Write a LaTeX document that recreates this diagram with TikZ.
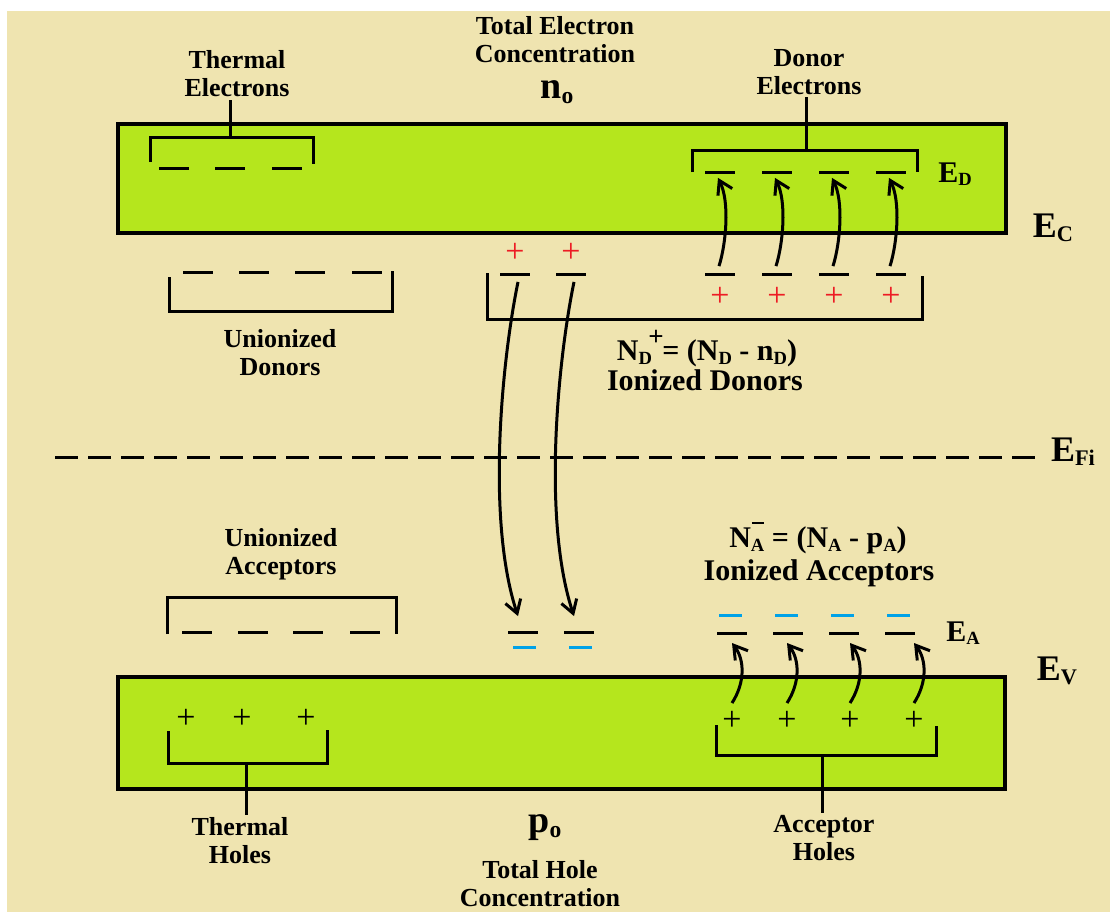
\documentclass[tikz,border=0pt]{standalone}
\usepackage{fontspec}
\setmainfont{Liberation Serif}
\usepackage{graphicx}
\usetikzlibrary{arrows.meta,positioning}

\definecolor{bgtan}{HTML}{EFE4B0}
\definecolor{bandgreen}{HTML}{B5E61D}
\definecolor{ionred}{HTML}{ED1C24}
\definecolor{ionblue}{HTML}{00A2E8}

\newcommand{\lowidx}[1]{\raisebox{-0.12em}{\scalebox{0.62}{#1}}}
\newcommand{\lblfont}{\bfseries\fontsize{13}{14}\selectfont}

\begin{document}
\begin{tikzpicture}[x=0.5pt, y=-0.5pt,
  band/.style={draw, line width=2pt, fill=bandgreen},
  lvl/.style={fill=black, minimum width=15pt, minimum height=1.5pt, inner sep=0pt},
  bluelvl/.style={fill=ionblue, minimum width=11.5pt, minimum height=1.5pt, inner sep=0pt},
  plus/.style={font=\fontsize{17}{17}\selectfont, inner sep=0pt},
  brk/.style={line width=1.5pt},
  lbl/.style={font=\lblfont, align=center, inner sep=1pt},
  bigl/.style={font=\bfseries\fontsize{15}{16}\selectfont, align=center, inner sep=1pt},
  elbl/.style={font=\bfseries\fontsize{18}{20}\selectfont, inner sep=0pt},
  elbls/.style={font=\bfseries\fontsize{15}{16}\selectfont, inner sep=0pt},
  hop/.style={line width=1.5pt, -{Straight Barb[length=6.5pt,width=8pt]}},
  fermi/.style={line width=1.5pt, dash pattern=on 11.5pt off 5pt}]

% page and background
\fill[white] (0,0) rectangle (1110,912);
\fill[bgtan] (7,11) rectangle (1110,912);
\useasboundingbox (0,0) rectangle (1110,912);

% conduction and valence bands
\draw[band] (118,124) rectangle (1006,233);
\draw[band] (118,677) rectangle (1005,789);

\node[elbl] (ec) at (1053,228) {E\lowidx{C}};
\node[elbl] (ev) at (1057,671) {E\lowidx{V}};
\node[elbls] (ed) at (955,174) {E\lowidx{D}};
\node[elbls] (ea) at (963,633) {E\lowidx{A}};

% intrinsic Fermi level
\coordinate (fl) at (55,457);
\coordinate (fr) at (1037,457);
\draw[fermi] (fl) -- (fr);
\node[elbl] (efi) at (1073,452) {E\lowidx{Fi}};

% top labels
\node[lbl] (tot) at (555,40) {Total Electron\\Concentration};
\node[font=\bfseries\fontsize{19}{20}\selectfont, inner sep=0pt] (no) at (557,92) {n\lowidx{o}};

% thermal electrons
\foreach \x [count=\i] in {174,230,287} {
  \node[lvl] (te\i) at (\x,168) {};
}
\draw[brk] (150,162) -- (150,137) -- (313,137) -- (313,164);
\node[lbl] (tel) at (237,74) {Thermal\\Electrons};
\coordinate (teb) at (230,137);
\draw[brk] (teb) -- (teb |- tel.south);

% donor electrons and ionized donors
\foreach \x [count=\i] in {720,777,834,891} {
  \node[lvl] (du\i) at (\x,172) {};
  \node[lvl] (dl\i) at (\x,274) {};
  \node[plus, text=ionred] (dp\i) at (\x,297) {+};
  \draw[hop] ([xshift=-0.5pt,yshift=3pt]dl\i.north) .. controls +(7,-22) and +(12,24) .. ([xshift=-1pt,yshift=-2pt]du\i.south);
}
\draw[brk] (692,172) -- (692,150) -- (917,150) -- (917,172);
\node[lbl] (del) at (809,72) {Donor\\Electrons};
\coordinate (deb) at (806,150);
\draw[brk] (deb) -- (deb |- del.south);

% unionized donors
\foreach \x [count=\i] in {198,254,310,367} {
  \node[lvl] (ud\i) at (\x,272) {};
}
\draw[brk] (169,277) -- (169,311) -- (392,311) -- (392,271);
\node[lbl] (udl) at (280,353) {Unionized\\Donors};

% ionized donors: electrons dropping to acceptor level
\draw[brk] (487,273) -- (487,319) -- (922,319) -- (922,276);
\foreach \x [count=\i] in {515,571} {
  \node[lvl] (il\i) at (\x,274) {};
  \node[plus, text=ionred] (ip\i) at (\x,253) {+};
  \node[lvl] (al\i) at (\x+8,632) {};
  \node[bluelvl] (ab\i) at (\x+9,647) {};
  \draw[hop] ([xshift=1.5pt,yshift=-3pt]il\i.south) .. controls +(-16,78) and +(-32,-97) .. ([xshift=-2.5pt,yshift=7pt]al\i.north);
}
\node[bigl] (ndf) at (707,349) {N\lowidx{D}\hspace{-0.12em}\raisebox{0.5em}{\scalebox{0.9}{+}}\hspace{-0.05em}= (N\lowidx{D} - n\lowidx{D})};
\node[bigl] (idl) at (705,380) {Ionized Donors};

% unionized acceptors
\node[lbl] (ual) at (281,554) {Unionized\\Acceptors};
\draw[brk] (167,634) -- (167,597) -- (396,597) -- (396,634);
\foreach \x [count=\i] in {197,253,308,365} {
  \node[lvl] (ua\i) at (\x,632) {};
}

% ionized acceptors and acceptor holes
\node[bigl] (naf) at (818,538) {N\lowidx{A}\llap{\rule[0.78em]{0.42em}{0.08em}} = (N\lowidx{A} - p\lowidx{A})};
\node[bigl] (ial) at (819,573) {Ionized Acceptors};
\foreach \x/\c [count=\i] in {732/732, 788/787, 844/850, 900/914} {
  \node[lvl] (ad\i) at (\x,633) {};
  \node[bluelvl] (ab\i) at (\x-2,615) {};
  \node[plus] (ah\i) at (\c,721) {+};
  \coordinate (at\i) at (\c,643);
  \draw[hop] ([yshift=4pt]ah\i.north) .. controls +(13,-20) and +(13,17) .. (at\i);
}
\draw[brk] (716,725) -- (716,755) -- (936,755) -- (936,726);
\node[lbl] (ahl) at (824,838) {Acceptor\\Holes};
\coordinate (ahb) at (822,755);
\draw[brk] (ahb) -- (ahb |- ahl.north);

% thermal holes
\foreach \x [count=\i] in {186,242,306} {
  \node[plus] (th\i) at (\x,719) {+};
}
\draw[brk] (168,731) -- (168,763) -- (327,763) -- (327,730);
\node[lbl] (thl) at (240,841) {Thermal\\Holes};
\coordinate (thb) at (246,763);
\draw[brk] (thb) -- (thb |- thl.north);

% bottom labels
\node[font=\bfseries\fontsize{19}{20}\selectfont, inner sep=0pt] (po) at (545,828) {p\lowidx{o}};
\node[lbl] (toh) at (540,884) {Total Hole\\Concentration};
\end{tikzpicture}
\end{document}
